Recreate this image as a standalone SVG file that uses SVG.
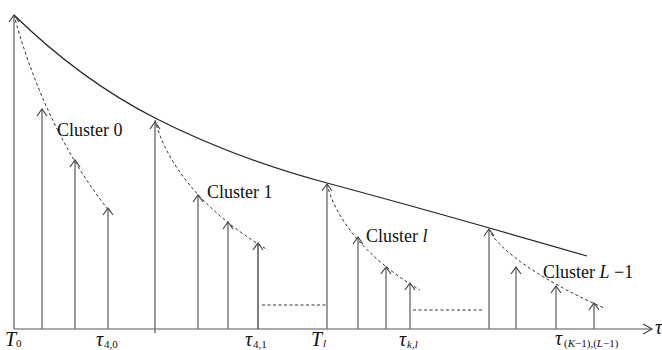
<svg xmlns="http://www.w3.org/2000/svg" width="662" height="350" viewBox="0 0 662 350">
<style>
.arr{stroke:#7a7a7a;stroke-width:1.5;fill:none;marker-end:url(#ah)}
.dash{stroke:#333;stroke-width:1;fill:none;stroke-dasharray:3,2.5}
.lbl{font-family:"Liberation Serif",serif;font-size:18px;fill:#111}
.m{font-family:"Liberation Serif",serif;font-style:italic;font-size:20px;fill:#111}
.sub{font-family:"Liberation Serif",serif;font-size:11px;fill:#111}
</style>
<defs>
<marker id="ah" markerUnits="userSpaceOnUse" markerWidth="14" markerHeight="14" refX="0" refY="0" viewBox="-8 -7 10 14" orient="auto" overflow="visible">
<path d="M-7,-5 L0,0 L-7,5" fill="none" stroke="#444" stroke-width="1.2"/>
</marker>
<marker id="ax" markerUnits="userSpaceOnUse" markerWidth="14" markerHeight="14" refX="0" refY="0" viewBox="-8 -7 10 14" orient="auto" overflow="visible">
<path d="M-9,-5 L0,0 L-9,5" fill="none" stroke="#444" stroke-width="1.2"/>
</marker>
</defs>
<g id="connectors">
<line x1="14" y1="329" x2="652" y2="329" stroke="#555" stroke-width="1.2" marker-end="url(#ax)"/>
<line x1="155" y1="329" x2="155" y2="333" stroke="#555" stroke-width="1.2"/>
<path d="M14,15 C58,58 108,94 155,118 S260,165 327,183 S480,225 587,256" fill="none" stroke="#222" stroke-width="1.2"/>
<path class="dash" d="M14,15 C30,75 60,150 110,212"/>
<path class="dash" d="M155,120 C165,160 200,210 268,250"/>
<path class="dash" d="M327,184 C335,217 364,257 420,290"/>
<path class="dash" d="M489,229 C495,245 530,275 604,308"/>
<line class="dash" x1="262" y1="305" x2="327" y2="305"/>
<line class="dash" x1="413" y1="310" x2="484" y2="310"/>
</g>
<g id="cluster0">
<line class="arr" x1="14" y1="329" x2="14" y2="15"/>
<line class="arr" x1="42" y1="329" x2="42" y2="109"/>
<line class="arr" x1="75" y1="329" x2="75" y2="160"/>
<line class="arr" x1="108" y1="329" x2="108" y2="208"/>
<text class="lbl" x="57" y="136">Cluster 0</text>
</g>
<g id="cluster1">
<line class="arr" x1="155" y1="329" x2="155" y2="122"/>
<line class="arr" x1="198" y1="329" x2="198" y2="195"/>
<line class="arr" x1="228" y1="329" x2="228" y2="222"/>
<line class="arr" x1="258" y1="329" x2="258" y2="243" style="stroke:#555"/>
<text class="lbl" x="207" y="198">Cluster 1</text>
</g>
<g id="clusterl">
<line class="arr" x1="327" y1="329" x2="327" y2="184"/>
<line class="arr" x1="358" y1="329" x2="358" y2="237"/>
<line class="arr" x1="386" y1="329" x2="386" y2="267"/>
<line class="arr" x1="410" y1="329" x2="410" y2="283"/>
<text class="lbl" x="366" y="242">Cluster <tspan font-style="italic">l</tspan></text>
</g>
<g id="clusterL1">
<line class="arr" x1="489" y1="329" x2="489" y2="229"/>
<line class="arr" x1="516" y1="329" x2="516" y2="267"/>
<line class="arr" x1="556" y1="329" x2="556" y2="286"/>
<line class="arr" x1="594" y1="329" x2="594" y2="303"/>
<text class="lbl" x="543" y="278">Cluster <tspan font-style="italic">L</tspan> −1</text>
</g>
<g id="axis-labels">
<text class="m" x="5" y="346">T</text><text class="sub" x="16" y="347">0</text>
<text class="m" x="96" y="346">τ</text><text class="sub" x="104" y="348">4,0</text>
<text class="m" x="245" y="346">τ</text><text class="sub" x="253" y="348">4,1</text>
<text class="m" x="311" y="346">T</text><text class="sub" x="323" y="347" font-style="italic">l</text>
<text class="m" x="399" y="346">τ</text><text class="sub" x="407" y="348" font-style="italic">k,l</text>
<text class="m" x="555" y="345">τ</text><text class="sub" x="564" y="347">(<tspan font-style="italic">K</tspan>−1),(<tspan font-style="italic">L</tspan>−1)</text>
<text class="m" x="655" y="334">τ</text>
</g>
</svg>
